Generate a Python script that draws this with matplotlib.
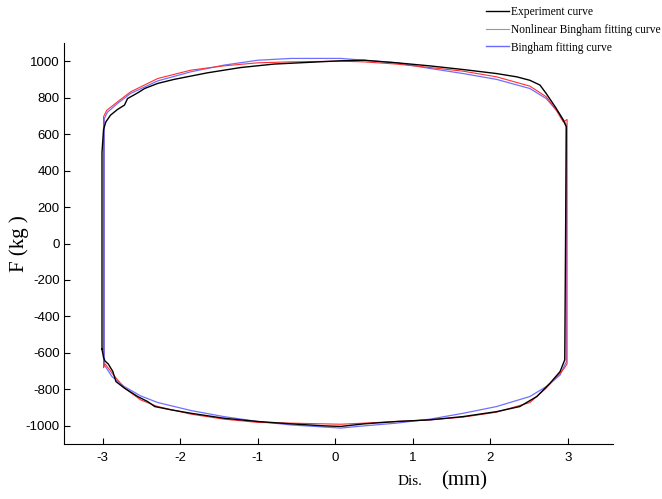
import matplotlib.pyplot as plt
from matplotlib.lines import Line2D
import numpy as np

# upper branch (moving right), lower branch (moving left)
exp_up_x = [-3.01, -3.01, -2.99, -2.96, -2.90, -2.81, -2.72, -2.68, -2.55, -2.46, -2.29,
            -2.08, -1.65, -1.22, -0.79, -0.36, 0.07, 0.37, 0.79, 1.22, 1.65, 2.08,
            2.34, 2.51, 2.64, 2.72, 2.85, 2.94, 2.98]
exp_up_f = [-580, 500, 625, 667, 704, 735, 759, 795, 826, 850, 878,
            900, 936, 965, 984, 993, 1002, 1005, 991, 974, 954, 932,
            914, 895, 869, 823, 741, 677, 640]
exp_lo_x = [2.98, 2.96, 2.90, 2.77, 2.60, 2.38, 2.08, 1.65, 1.22, 0.79, 0.37, 0.07, -0.14,
            -0.57, -1.00, -1.44, -1.86, -2.12, -2.33, -2.42, -2.55, -2.72, -2.83, -2.87,
            -2.93, -2.97, -2.99, -3.01]
exp_lo_f = [640, -638, -702, -766, -839, -894, -922, -949, -967, -976, -989, -1003, -1000,
            -989, -976, -958, -931, -912, -894, -867, -839, -793, -757, -702,
            -660, -645, -625, -580]

nl_up_x = [-2.99, -2.99, -2.95, -2.81, -2.64, -2.29, -1.86, -1.44, -1.00, -0.57, 0.07,
           0.37, 0.79, 1.22, 1.65, 2.08, 2.51, 2.72, 2.85, 2.94, 2.99]
nl_up_f = [-680, 695, 730, 777, 832, 905, 951, 974, 991, 996, 1000,
           996, 984, 965, 945, 914, 863, 805, 731, 667, 680]
nl_lo_x = [2.99, 2.99, 2.96, 2.90, 2.72, 2.51, 2.08, 1.65, 1.22, 0.79, 0.37, 0.07,
           -0.57, -1.00, -1.44, -1.86, -2.29, -2.51, -2.72, -2.88, -2.97, -2.99]
nl_lo_f = [680, -660, -680, -711, -793, -872, -925, -952, -967, -976, -985, -991,
           -985, -981, -963, -936, -894, -858, -793, -711, -660, -680]

bh_up_x = [-2.98, -2.98, -2.94, -2.81, -2.64, -2.29, -1.86, -1.44, -1.00, -0.57, 0.07,
           0.37, 0.79, 1.22, 1.65, 2.08, 2.51, 2.72, 2.89, 2.96, 2.98]
bh_up_f = [-666, 685, 720, 768, 823, 892, 942, 978, 1005, 1015, 1015,
           1005, 991, 960, 932, 900, 850, 795, 713, 667, 650]
bh_lo_x = [2.98, 2.98, 2.96, 2.90, 2.72, 2.51, 2.08, 1.65, 1.22, 0.79, 0.37, 0.07,
           -0.57, -1.00, -1.44, -1.86, -2.29, -2.51, -2.72, -2.88, -2.98, -2.98]
bh_lo_f = [650, -650, -666, -721, -785, -839, -894, -931, -963, -985, -1000, -1012,
           -995, -976, -949, -916, -872, -836, -785, -730, -666, -666]

legend_labels = ['Experiment curve', 'Nonlinear Bingham fitting curve', 'Bingham fitting curve']
x_ticks = [-3, -2, -1, 0, 1, 2, 3]
y_ticks = np.arange(-1000, 1001, 200)

fig = plt.figure(figsize=(6.62, 4.99), dpi=100)
ax = fig.add_axes([0.0967, 0.110, 0.829, 0.804])

ax.plot(bh_up_x + bh_lo_x, bh_up_f + bh_lo_f, color='#7070ff', lw=0.9)
ax.plot(nl_up_x + nl_lo_x, nl_up_f + nl_lo_f, color='#ff3030', lw=0.8)
ax.plot(exp_up_x + exp_lo_x, exp_up_f + exp_lo_f, color='k', lw=1.0)

ax.set_xlim(-3.5, 3.58)
ax.set_ylim(-1100, 1100)
ax.set_xticks(x_ticks)
ax.set_yticks(y_ticks)
ax.set_xticklabels([str(v) for v in x_ticks], family='Liberation Sans', fontsize=9.5)
ax.set_yticklabels([str(v) for v in y_ticks], family='Liberation Sans', fontsize=9.5)
ax.tick_params(direction='in', length=4, width=0.8)
ax.tick_params(axis='y', pad=3)
ax.tick_params(axis='x', pad=6)
ax.spines['top'].set_visible(False)
ax.spines['right'].set_visible(False)

ax.set_ylabel('F (kg )', family='Liberation Serif', fontsize=15)
ax.yaxis.set_label_coords(-0.064, 0.5)
fig.text(0.600, 0.036, 'Dis.', family='Liberation Serif', fontsize=11, ha='left', va='center')
fig.text(0.666, 0.036, '(mm)', family='Liberation Serif', fontsize=15, ha='left', va='center')

handles = [Line2D([], [], color='k', lw=1.0),
           Line2D([], [], color='#999999', lw=0.8),
           Line2D([], [], color='#6a6aff', lw=1.0)]
fig.legend(handles, legend_labels, loc='upper left', bbox_to_anchor=(486 / 662, 1 - 6 / 499),
           frameon=False, prop={'family': 'Liberation Serif', 'size': 8.3},
           handlelength=2.0, handletextpad=0.2, labelspacing=0.5, borderpad=0, borderaxespad=0)

fig.savefig('out.png', dpi=100)
